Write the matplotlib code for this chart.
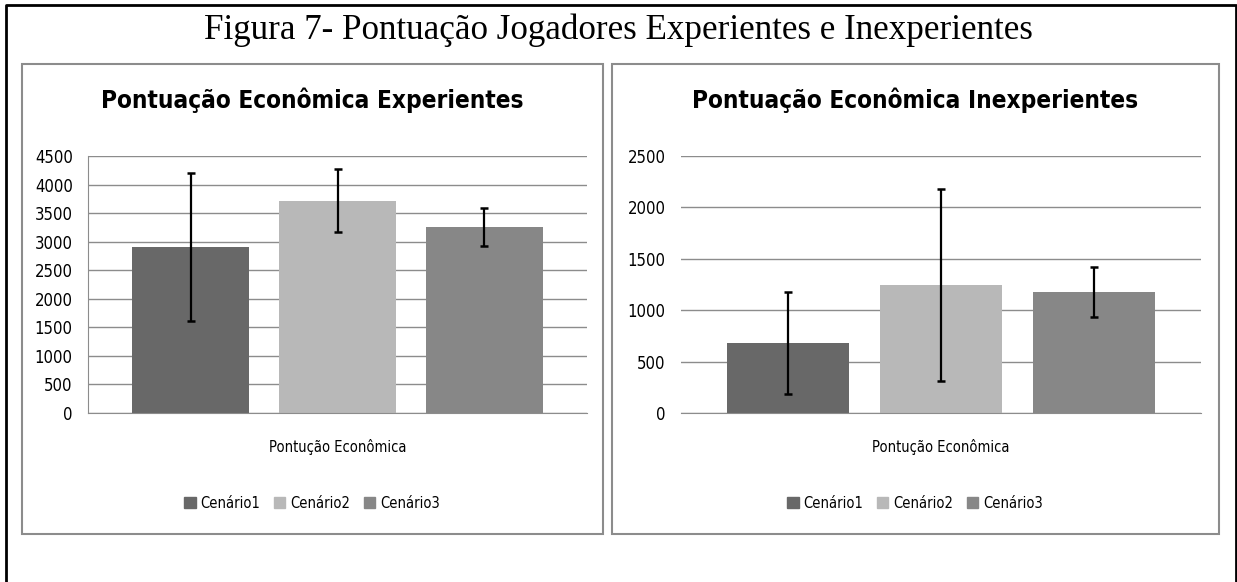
import numpy as np
from matplotlib import pyplot as plt
from matplotlib import font_manager
from matplotlib.patches import Rectangle, Patch
from matplotlib.lines import Line2D

# data
cenarios = ['Cenário1', 'Cenário2', 'Cenário3']
exp_mean = [2905, 3720, 3260]
exp_err = [1300, 545, 335]
inexp_mean = [680, 1248, 1178]
inexp_err = [495, 935, 240]
exp_ticks = list(range(0, 4501, 500))
inexp_ticks = list(range(0, 2501, 500))

colors = ['#686868', '#b8b8b8', '#878787']
W, H = 1237, 582

names = {f.name for f in font_manager.fontManager.ttflist}
if 'Liberation Sans Narrow' in names:
    sans = 'Liberation Sans Narrow'
    stretch = 'normal'
else:
    sans = 'DejaVu Sans'
    stretch = 'condensed'
serif = 'Liberation Serif'


def fx(px):
    return px / W


def fy(py):
    return 1 - py / H


fig = plt.figure(figsize=(W / 100, H / 100), dpi=100)

# outer frame and panel boxes
fig.add_artist(Line2D([fx(6), fx(6), fx(1236), fx(1236)],
                      [0, fy(5), fy(5), 0], color='black', lw=2))
for x0, x1 in [(22, 603), (612, 1219)]:
    fig.add_artist(Rectangle((fx(x0), fy(534)), fx(x1 - x0), (534 - 64) / H,
                             fill=False, ec='#8c8c8c', lw=1.5))

fig.text(0.5, fy(30), 'Figura 7- Pontuação Jogadores Experientes e Inexperientes',
         family=serif, fontsize=25.2, ha='center', va='center')


def draw(ax, means, errs, ticks, title, tx, show_left):
    x = np.arange(len(means))
    ax.set_axisbelow(True)
    ax.bar(x, means, width=0.8, color=colors, zorder=2)
    ax.errorbar(x, means, yerr=errs, fmt='none', ecolor='black',
                elinewidth=1.6, capsize=3, capthick=1.8, zorder=3)
    ax.set_xlim(-0.7, 2.7)
    ax.set_ylim(0, ticks[-1])
    ax.set_yticks(ticks)
    ax.set_yticklabels([str(t) for t in ticks], family=sans,
                       fontstretch=stretch, fontsize=12)
    ax.set_xticks([])
    ax.grid(axis='y', color='#8c8c8c', lw=1)
    for s in ['top', 'right']:
        ax.spines[s].set_visible(False)
    ax.spines['bottom'].set_color('#8c8c8c')
    ax.spines['left'].set_color('#8c8c8c')
    ax.spines['left'].set_visible(show_left)
    ax.tick_params(axis='y', length=0, pad=11)
    cx = (ax.get_position().x0 + ax.get_position().x1) / 2
    fig.text(cx, fy(447), 'Pontução Econômica', family=sans,
             fontstretch=stretch, fontsize=10.5, ha='center', va='center')
    handles = [Patch(color=c) for c in colors]
    fig.legend(handles, cenarios, loc='center', bbox_to_anchor=(fx(tx), fy(503)),
               ncol=3, frameon=False, handlelength=0.8, handleheight=0.8,
               handletextpad=0.35, columnspacing=0.9,
               prop={'family': sans, 'stretch': stretch, 'size': 10.5})
    fig.text(fx(tx), fy(100), title, family=sans, fontstretch=stretch,
             fontweight='bold', fontsize=17.5, ha='center', va='center')


ax1 = fig.add_axes([fx(88), fy(413), fx(587 - 88), (413 - 156) / H])
ax2 = fig.add_axes([fx(681), fy(413), fx(1201 - 681), (413 - 156) / H])
draw(ax1, exp_mean, exp_err, exp_ticks,
     'Pontuação Econômica Experientes', 312, True)
draw(ax2, inexp_mean, inexp_err, inexp_ticks,
     'Pontuação Econômica Inexperientes', 915, False)

fig.savefig('out.png', dpi=100)
